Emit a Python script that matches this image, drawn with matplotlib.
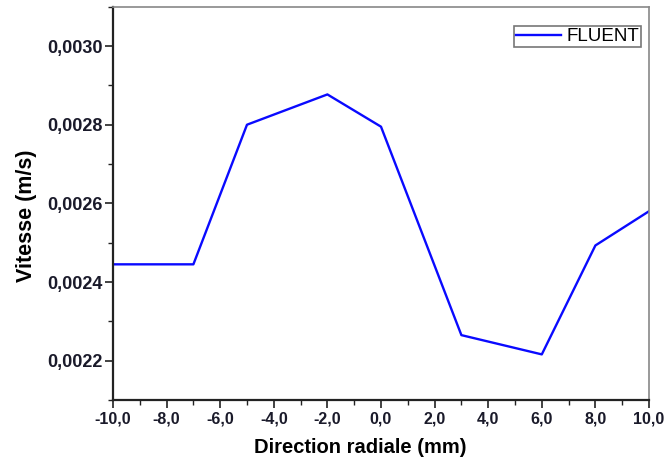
import matplotlib
matplotlib.use('Agg')
import matplotlib.pyplot as plt
from matplotlib.ticker import MultipleLocator, FuncFormatter

# data (radial position in mm, velocity in m/s)
pos = [-10, -7, -5, -2, 0, 3, 6, 8, 10]
vitesse = [0.002445, 0.002445, 0.002800, 0.002877, 0.002795,
           0.002265, 0.002216, 0.002493, 0.002580]

plt.rcParams['font.family'] = ['Liberation Sans', 'DejaVu Sans']

fig = plt.figure(figsize=(6.67, 4.70), dpi=100)
ax = fig.add_axes([0.1694, 0.1489, 0.8036, 0.8368])

ax.plot(pos, vitesse, '-', color='#0a0aff', lw=1.7, label='FLUENT')

ax.set_xlim(-10, 10)
ax.set_ylim(0.0021, 0.0031)

ax.xaxis.set_major_locator(MultipleLocator(2))
ax.xaxis.set_minor_locator(MultipleLocator(1))
ax.yaxis.set_major_locator(MultipleLocator(0.0002))
ax.yaxis.set_minor_locator(MultipleLocator(0.0001))
ax.xaxis.set_major_formatter(FuncFormatter(lambda v, p: ('%.1f' % v).replace('.', ',')))
ax.yaxis.set_major_formatter(FuncFormatter(lambda v, p: ('%.4f' % v).replace('.', ',')))

ax.tick_params(which='major', direction='out', length=5.5, width=1.2, colors='#222222')
ax.tick_params(which='minor', direction='out', length=3.5, width=1.0, colors='#222222')
ax.tick_params(axis='x', labelsize=11.5, pad=3)
ax.tick_params(axis='y', labelsize=13, pad=2)
for lab in ax.get_xticklabels() + ax.get_yticklabels():
    lab.set_fontweight('bold')
    lab.set_color('#1a1a2a')

ax.spines['left'].set_linewidth(1.6)
ax.spines['bottom'].set_linewidth(1.6)
ax.spines['left'].set_color('#222222')
ax.spines['bottom'].set_color('#222222')
ax.spines['top'].set_color('#888888')
ax.spines['right'].set_color('#888888')
ax.spines['top'].set_linewidth(1.2)
ax.spines['right'].set_linewidth(1.2)

ax.set_xlabel('Direction radiale (mm)', fontsize=14.5, fontweight='bold', labelpad=8, x=0.461)
ax.set_ylabel('Vitesse (m/s)', fontsize=15.5, fontweight='bold', labelpad=7, y=0.468)

leg = ax.legend(loc='upper right', bbox_to_anchor=(0.985, 0.95), fontsize=13.5,
                handlelength=2.4, handletextpad=0.3, borderpad=0.1,
                fancybox=False, framealpha=1, edgecolor='#777777', borderaxespad=0)
leg.get_frame().set_linewidth(1.2)

plt.savefig('out.png', dpi=100)
plt.close()
